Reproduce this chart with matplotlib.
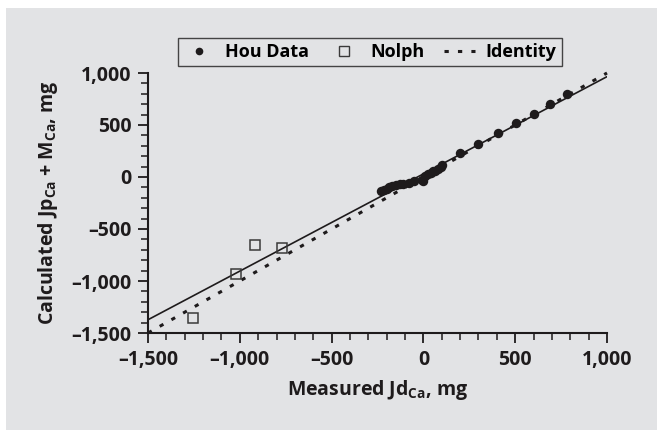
import numpy as np
import matplotlib
matplotlib.use("Agg")
import matplotlib.pyplot as plt
from matplotlib.patches import Rectangle
from matplotlib.ticker import MultipleLocator, FuncFormatter
from matplotlib.lines import Line2D

FONT = 'Open Sans'
plt.rcParams['font.family'] = [FONT, 'DejaVu Sans']
plt.rcParams['font.weight'] = 'bold'
plt.rcParams['mathtext.fontset'] = 'custom'
plt.rcParams['mathtext.rm'] = FONT + ':bold'
plt.rcParams['mathtext.it'] = FONT + ':bold'
plt.rcParams['mathtext.bf'] = FONT + ':bold'

# Hou data: measured vs calculated calcium (mg)
hou_x = [-230, -215, -200, -185, -170, -150, -130, -110, -80, -50, -5, 0, 10,
         25, 40, 55, 65, 80, 95, 100, 200, 300, 405, 505, 600, 690, 780]
hou_y = [-135, -125, -112, -100, -90, -80, -70, -63, -55, -35, -25, -35, 5,
         30, 40, 55, 60, 75, 95, 115, 235, 315, 420, 515, 610, 705, 795]

# Nolph data
nolph_x = [-1255, -1022, -915, -770]
nolph_y = [-1355, -935, -655, -682]

# Regression line of calculated on measured
fit_slope = 0.935
fit_intercept = 30

x_range = [-1500, 1000]
y_range = [-1500, 1000]

bg = '#e2e3e5'
ink = '#1e1b1c'

fig = plt.figure(figsize=(6.63, 4.33), dpi=100, facecolor='white')
fig.patches.append(Rectangle((6 / 663, 3 / 433), 651 / 663, 422 / 433,
                             transform=fig.transFigure, facecolor=bg,
                             edgecolor='none', zorder=-10))

ax = fig.add_axes([148 / 663, 1 - 333 / 433, 459 / 663, 260 / 433])
ax.set_facecolor('none')

xs = np.array(x_range, dtype=float)
ax.plot(xs, fit_slope * xs + fit_intercept, color=ink, lw=1.2, zorder=2)
ax.plot(xs, xs, color=ink, lw=2.2, linestyle=(0, (1.4, 3.0)), zorder=2,
        clip_on=False)
ax.plot(hou_x, hou_y, 'o', color=ink, markersize=6.8, markeredgewidth=0,
        zorder=3)
ax.plot(nolph_x, nolph_y, 's', markerfacecolor='none', markeredgecolor='#3a3a3a',
        markersize=7.2, markeredgewidth=1.1, zorder=3)

ax.set_xlim(*x_range)
ax.set_ylim(*y_range)

for s in ['top', 'right']:
    ax.spines[s].set_visible(False)
for s in ['left', 'bottom']:
    ax.spines[s].set_linewidth(1.5)
    ax.spines[s].set_color(ink)

ax.xaxis.set_major_locator(MultipleLocator(500))
ax.xaxis.set_minor_locator(MultipleLocator(100))
ax.yaxis.set_major_locator(MultipleLocator(500))
ax.yaxis.set_minor_locator(MultipleLocator(100))

fmt = FuncFormatter(lambda v, p: ('\u2013' if v < 0 else '') + f'{abs(int(v)):,}')
ax.xaxis.set_major_formatter(fmt)
ax.yaxis.set_major_formatter(fmt)

ax.tick_params(which='major', direction='out', length=7, width=1.3, color=ink,
               labelsize=14, labelcolor=ink, pad=5)
ax.tick_params(which='minor', direction='out', length=5, width=1.1, color=ink)
for lab in ax.get_xticklabels() + ax.get_yticklabels():
    lab.set_fontweight('bold')

ax.set_xlabel(r'Measured Jd$_{\mathrm{Ca}}$, mg', fontsize=14, color=ink,
              fontweight='bold', labelpad=6)
ax.set_ylabel(r'Calculated Jp$_{\mathrm{Ca}}$ + M$_{\mathrm{Ca}}$, mg',
              fontsize=14, color=ink, fontweight='bold', labelpad=8)

handles = [
    Line2D([], [], marker='o', color=ink, linestyle='none', markersize=5.5,
           markeredgewidth=0),
    Line2D([], [], marker='s', linestyle='none', markerfacecolor='none',
           markeredgecolor='#3a3a3a', markersize=7, markeredgewidth=1.0),
    Line2D([], [], color=ink, lw=2.2, linestyle=(0, (1.4, 3.0))),
]
leg = fig.legend(handles, ['Hou Data', 'Nolph', 'Identity'], ncol=3,
                 loc='center', bbox_to_anchor=(370 / 663, 1 - 52 / 433),
                 frameon=True, fancybox=False, edgecolor='#444444',
                 facecolor=bg, framealpha=1, prop={'size': 13, 'weight': 'bold'},
                 handlelength=1.7, handletextpad=0.6, columnspacing=1.1,
                 borderpad=0.3)
leg.get_frame().set_linewidth(1.0)

fig.savefig('out.png', dpi=100, facecolor='white')
